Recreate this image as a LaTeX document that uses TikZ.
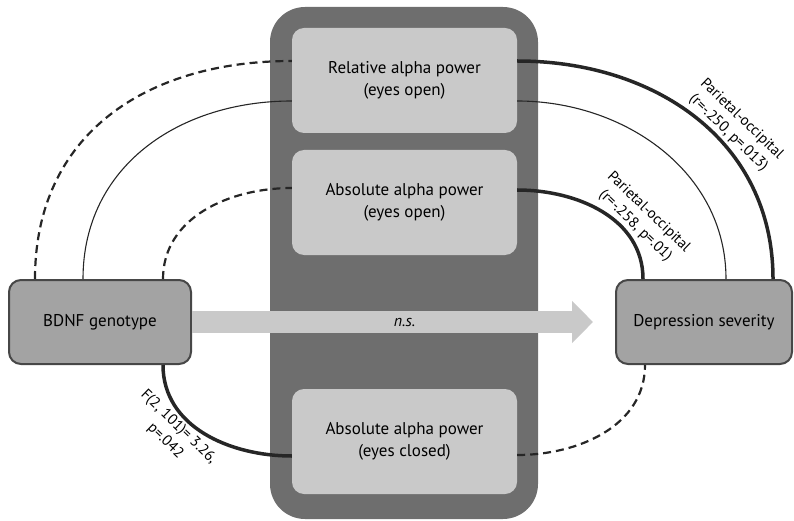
\documentclass[tikz,border=0pt]{standalone}
\usepackage{fontspec}
\setmainfont{PT Sans}
\usetikzlibrary{arrows.meta,calc}
\definecolor{panelgrey}{HTML}{6E6E6E}
\definecolor{boxgrey}{HTML}{C9C9C9}
\definecolor{endgrey}{HTML}{A3A3A3}
\definecolor{edgegrey}{HTML}{474747}
\definecolor{linegrey}{HTML}{262626}
\tikzset{
  measure/.style={fill=boxgrey,rounded corners=12pt,minimum width=225pt,minimum height=105pt,
    inner sep=0pt,align=center,font=\fontsize{17}{22}\selectfont},
  endpoint/.style={fill=endgrey,draw=edgegrey,line width=2pt,rounded corners=12pt,
    minimum height=84pt,inner sep=0pt,font=\fontsize{17}{22}\selectfont},
  sigline/.style={linegrey,line width=3.5pt},
  weakline/.style={linegrey,line width=1.1pt},
  nsline/.style={linegrey,line width=2.2pt,dash pattern=on 8pt off 5pt},
  statlabel/.style={rotate=-44,align=center,font=\fontsize{15}{19}\selectfont,inner sep=0pt}
}

\begin{document}
\begin{tikzpicture}[x=1pt,y=-1pt]
  \useasboundingbox (0,0) rectangle (794,521);
  % Panel holding the alpha measures
  \node[fill=panelgrey,rounded corners=35pt,minimum width=268pt,minimum height=512pt,inner sep=0pt] (eeg) at (404,263) {};
  \node[measure] (rel) at (404.5,80.5) {Relative alpha power\\(eyes open)};
  \node[measure] (absopen) at (404.5,202.5) {Absolute alpha power\\(eyes open)};
  \node[measure] (absclosed) at (404.5,441.5) {Absolute alpha power\\(eyes closed)};
  % Genotype and outcome
  \node[endpoint,minimum width=182pt] (bdnf) at (100,322) {BDNF genotype};
  \node[endpoint,minimum width=176pt] (dep) at (704,322) {Depression severity};
  % Direct path
  \coordinate (nstip) at (593,322);
  \draw[boxgrey,line width=22pt,-{Triangle[length=21pt,width=41pt]}] (bdnf.east) -- (nstip)
    node[pos=0.53,text=black,font=\fontsize{16}{18}\selectfont\itshape] {n.s.};
  % Genotype to alpha
  \draw[nsline] ($(bdnf.north west)+(27,0)$) to[out=90,in=180,looseness=1.1] ($(rel.west)+(0,-19.5)$);
  \draw[weakline] ($(bdnf.north west)+(75,0)$) to[out=90,in=180,looseness=1.05] ($(rel.west)+(0,20.5)$);
  \draw[nsline] ($(bdnf.north west)+(155,0)$) to[out=90,in=180] ($(absopen.west)+(0,-14.5)$);
  \draw[sigline] ($(bdnf.south west)+(155,0)$) to[out=-90,in=180] ($(absclosed.west)+(0,14.5)$);
  % Alpha to depression
  \draw[sigline] ($(rel.east)+(0,-19.5)$) to[out=0,in=90,looseness=1.05] ($(dep.north west)+(158,0)$);
  \draw[weakline] ($(rel.east)+(0,20.5)$) to[out=0,in=90] ($(dep.north west)+(111,0)$);
  \draw[sigline] ($(absopen.east)+(0,-12.5)$) to[out=0,in=90] ($(dep.north west)+(28,0)$);
  \draw[nsline] ($(absclosed.east)+(0,13.5)$) to[out=0,in=-90] ($(dep.south west)+(30,0)$);
  % Statistics
  \node[statlabel] (lab1) at (735,126) {Parietal-occipital\\(r=-.250, p=.013)};
  \node[statlabel] (lab2) at (642,219) {Parietal-occipital\\(r=-.258, p=.01)};
  \node[statlabel] (lab3) at (172,434) {F(2, 101)= 3.26,\\p=.042};
\end{tikzpicture}
\end{document}
